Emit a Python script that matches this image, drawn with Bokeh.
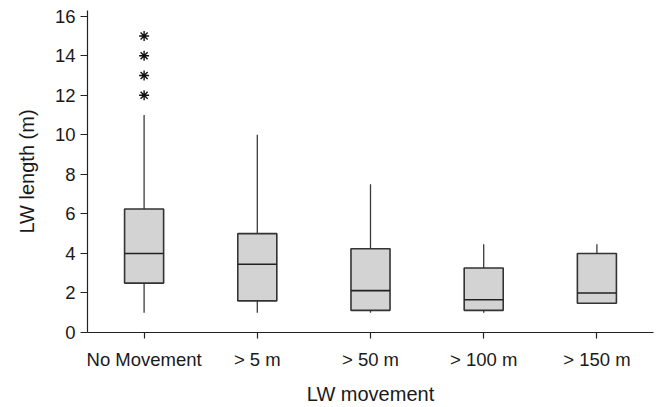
from bokeh.plotting import figure
from bokeh.models import ColumnDataSource, FactorRange, Range1d, FixedTicker
from bokeh.transform import dodge
from bokeh.embed import file_html
from bokeh.resources import INLINE

# ---- data ----
categories = ["No Movement", "> 5 m", "> 50 m", "> 100 m", "> 150 m"]
whisker_low = [1.0, 1.0, 1.0, 1.0, 1.48]
q1 = [2.5, 1.6, 1.12, 1.12, 1.48]
median = [4.0, 3.45, 2.12, 1.66, 2.0]
q3 = [6.25, 5.0, 4.24, 3.26, 4.0]
whisker_high = [11.0, 10.0, 7.5, 4.47, 4.47]
outlier_cat = ["No Movement", "No Movement", "No Movement", "No Movement"]
outlier_val = [12.0, 13.0, 14.0, 15.0]
y_ticks = [0, 2, 4, 6, 8, 10, 12, 14, 16]

FONT = "Liberation Sans"
BOX_W = 0.345

src = ColumnDataSource(dict(cat=categories, lo=whisker_low, q1=q1, med=median,
                            q3=q3, hi=whisker_high))
out_src = ColumnDataSource(dict(cat=outlier_cat, val=outlier_val))

p = figure(width=659, height=407, output_backend="svg", toolbar_location=None,
           x_range=FactorRange(*categories), y_range=Range1d(0, 16.29),
           min_border_left=87, min_border_top=10, min_border_right=6,
           min_border_bottom=74)
p.outline_line_color = None
p.grid.visible = False
p.background_fill_color = "white"
p.border_fill_color = "white"

# whiskers
p.segment(x0="cat", y0="q3", x1="cat", y1="hi", source=src,
          line_color="#3a3a3a", line_width=1.3)
p.segment(x0="cat", y0="lo", x1="cat", y1="q1", source=src,
          line_color="#3a3a3a", line_width=1.3)
# boxes
p.vbar(x="cat", bottom="q1", top="q3", width=BOX_W, source=src,
       fill_color="#d3d3d3", line_color="#333333", line_width=1.6)
# medians
p.segment(x0=dodge("cat", -BOX_W / 2, range=p.x_range), y0="med",
          x1=dodge("cat", BOX_W / 2, range=p.x_range), y1="med", source=src,
          line_color="#222222", line_width=1.6)
# outliers
p.scatter(x="cat", y="val", source=out_src, marker="asterisk", size=10,
          line_color="#111111", line_width=1.4)

# axes
for ax in (p.xaxis[0], p.yaxis[0]):
    ax.axis_line_color = "#222222"
    ax.axis_line_width = 1.2
    ax.major_tick_line_color = "#222222"
    ax.major_tick_line_width = 1.2
    ax.minor_tick_line_color = None
    ax.major_tick_in = 0
    ax.major_label_text_font = FONT
    ax.major_label_text_font_size = "18.5px"
    ax.major_label_text_color = "#1a1a1a"
    ax.axis_label_text_font = FONT
    ax.axis_label_text_font_size = "20px"
    ax.axis_label_text_font_style = "normal"
    ax.axis_label_text_color = "#1a1a1a"

p.yaxis.ticker = FixedTicker(ticks=y_ticks)
p.yaxis.major_tick_out = 7
p.yaxis.major_label_standoff = 5
p.yaxis.axis_label = "LW length (m)"
p.yaxis.axis_label_standoff = 14

p.xaxis.major_tick_out = 6
p.xaxis.major_label_standoff = 10
p.xaxis.axis_label = "LW movement"
p.xaxis.axis_label_standoff = 10

open("out.html", "w").write(file_html(p, INLINE))
